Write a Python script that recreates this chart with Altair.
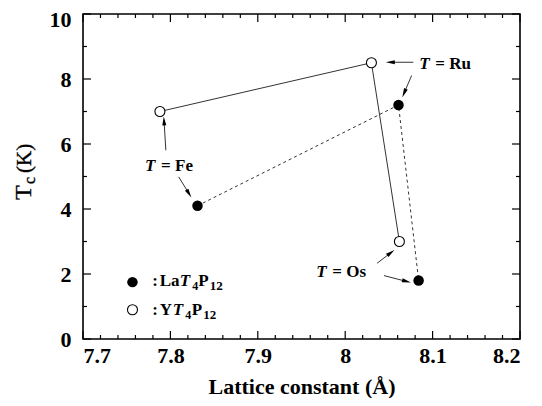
import math
import altair as alt
import pandas as pd

# ---------------- data ----------------
elements = ["Fe", "Ru", "Os"]
la_lattice = [7.831, 8.061, 8.084]
la_tc = [4.1, 7.2, 1.8]
y_lattice = [7.788, 8.030, 8.062]
y_tc = [7.0, 8.5, 3.0]

x_major = [7.7, 7.8, 7.9, 8.0, 8.1, 8.2]
x_minor = [7.72, 7.74, 7.76, 7.78, 7.82, 7.84, 7.86, 7.88, 7.92, 7.94, 7.96, 7.98,
           8.02, 8.04, 8.06, 8.08, 8.12, 8.14, 8.16, 8.18]
y_major = [0, 2, 4, 6, 8, 10]
y_minor = [1, 3, 5, 7, 9]

# annotation text "T = X" (left edge, baseline)
label_x = [7.771, 8.0848, 7.967]
label_y = [5.17, 8.31, 1.90]

# arrows (start -> tip)
arrow_from_x = [7.7948, 7.8095, 8.078, 8.076, 8.0365, 8.0444]
arrow_from_y = [5.807, 4.988, 8.515, 8.107, 2.331, 1.951]
arrow_to_x = [7.7924, 7.824, 8.0465, 8.0654, 8.0563, 8.0752]
arrow_to_y = [6.85, 4.356, 8.515, 7.442, 2.739, 1.736]

# legend
legend_marker_x = [7.7566, 7.7566]
legend_marker_y = [1.75, 0.90]
legend_text_x = 7.7791
legend_text_y = [1.62, 0.74]

# ---------------- layout ----------------
W, H = 437, 325
XD = [7.7, 8.2]
YD = [0, 10]
FONT = "Liberation Serif"

xs = alt.Scale(domain=XD, nice=False, zero=False)
ys = alt.Scale(domain=YD, nice=False, zero=False)


def to_px(x, y):
    return (x - XD[0]) / (XD[1] - XD[0]) * W, H - (y - YD[0]) / (YD[1] - YD[0]) * H


def to_data(px, py):
    return XD[0] + px / W * (XD[1] - XD[0]), YD[0] + (H - py) / H * (YD[1] - YD[0])


def X(field="x", **kw):
    return alt.X(field, type="quantitative", scale=xs, **kw)


def Y(field="y", **kw):
    return alt.Y(field, type="quantitative", scale=ys, **kw)


# ---- series ----
df_la = pd.DataFrame({"x": la_lattice, "y": la_tc, "el": elements, "o": [0, 1, 2]})
df_y = pd.DataFrame({"x": y_lattice, "y": y_tc, "el": elements, "o": [0, 1, 2]})

y_line = alt.Chart(df_y).mark_line(color="#333333", strokeWidth=1).encode(
    x=X("x", axis=alt.Axis(values=x_major, format="~g", title="Lattice constant (Å)",
                           titleY=54, titleBaseline="alphabetic")),
    y=Y("y", axis=alt.Axis(values=y_major, format="d", title=None,
                           labelOffset={"condition": {"test": "datum.value == 10", "value": 5},
                                        "value": 0})),
    order="o:Q",
)
la_line = alt.Chart(df_la).mark_line(color="#333333", strokeWidth=1, strokeDash=[3, 3]).encode(
    x=X(), y=Y(), order="o:Q"
)
la_pts = alt.Chart(df_la).mark_point(shape="circle", filled=True, color="black", size=110, opacity=1).encode(
    x=X(), y=Y()
)
y_pts = alt.Chart(df_y).mark_point(shape="circle", filled=True, fill="white", stroke="black",
                                     strokeWidth=1.1, size=100, opacity=1).encode(x=X(), y=Y())

# ---- arrows ----
HEAD = 81
half = math.sqrt(HEAD) / 2
rows = []
for fx, fy, tx, ty in zip(arrow_from_x, arrow_from_y, arrow_to_x, arrow_to_y):
    p0 = to_px(fx, fy)
    p1 = to_px(tx, ty)
    dx, dy = p1[0] - p0[0], p1[1] - p0[1]
    n = math.hypot(dx, dy)
    ux, uy = dx / n, dy / n
    hc = (p1[0] - ux * half, p1[1] - uy * half)
    hx, hy = to_data(*hc)
    ang = math.degrees(math.atan2(ux, -uy)) % 360
    rows.append({"x": fx, "y": fy, "x2": hx, "y2": hy, "hx": hx, "hy": hy, "angle": ang})
df_arr = pd.DataFrame(rows)

arr_lines = alt.Chart(df_arr).mark_rule(color="#333333", strokeWidth=1).encode(
    x=X("x"), y=Y("y"), x2="x2", y2="y2"
)
arr_heads = alt.Chart(df_arr).mark_point(
    shape="M0,-1L0.45,1L-0.45,1Z", filled=True, color="black", size=HEAD, opacity=1
).encode(x=X("hx"), y=Y("hy"), angle=alt.Angle("angle", type="quantitative", scale=None))

# ---- annotation labels ----
df_lab = pd.DataFrame({"x": label_x, "y": label_y,
                       "t": ["T"] * 3, "rest": ["= " + e for e in elements]})
lab_T = alt.Chart(df_lab).mark_text(font=FONT, fontWeight="bold", fontStyle="italic", fontSize=17,
                                    fill="black", align="left", baseline="alphabetic").encode(
    x=X(), y=Y(), text="t")
lab_rest = alt.Chart(df_lab).mark_text(font=FONT, fontWeight="bold", fontSize=17, dx=16, fill="black",
                                       align="left", baseline="alphabetic").encode(x=X(), y=Y(), text="rest")

# ---- legend ----
df_leg_m = pd.DataFrame({"x": legend_marker_x, "y": legend_marker_y})
leg_la = alt.Chart(df_leg_m.iloc[[0]]).mark_point(shape="circle", filled=True, color="black", size=110,
                                                   opacity=1).encode(x=X(), y=Y())
leg_y = alt.Chart(df_leg_m.iloc[[1]]).mark_point(shape="circle", filled=True, fill="white", stroke="black",
                                                  strokeWidth=1.1, size=100, opacity=1).encode(x=X(), y=Y())

pieces = [
    # (row, text, px offset, size, style, dy)
    (0, ":", 0, 17, "normal", 0), (0, "La", 7.5, 17, "normal", 0), (0, "T", 27.5, 17, "italic", 0),
    (0, "4", 40, 12, "normal", 4), (0, "P", 46, 17, "normal", 0), (0, "12", 57.5, 13, "normal", 4),
    (1, ":", 0, 17, "normal", 0), (1, "Y", 7.5, 17, "normal", 0), (1, "T", 20.5, 17, "italic", 0),
    (1, "4", 33, 12, "normal", 4), (1, "P", 39.5, 17, "normal", 0), (1, "12", 51, 13, "normal", 4),
]
leg_layers = []
for row, txt, off, fs, st, ddy in pieces:
    d = pd.DataFrame({"x": [legend_text_x], "y": [legend_text_y[row]], "t": [txt]})
    leg_layers.append(
        alt.Chart(d).mark_text(font=FONT, fontWeight="bold", fontStyle=st, fontSize=fs, dx=off, dy=ddy,
                               fill="black", align="left", baseline="alphabetic").encode(
            x=X(), y=Y(), text="t")
    )

# ---- ticks (inward, all four sides) ----
def xticks(vals, length):
    d = pd.DataFrame({"x": vals})
    b = alt.Chart(d).mark_rule(color="black", strokeWidth=1.2).encode(
        x=X(), y=alt.value(H), y2=alt.value(H - length))
    t = alt.Chart(d).mark_rule(color="black", strokeWidth=1.2).encode(
        x=X(), y=alt.value(0), y2=alt.value(length))
    return [b, t]


def yticks(vals, length):
    d = pd.DataFrame({"y": vals})
    l = alt.Chart(d).mark_rule(color="black", strokeWidth=1.2).encode(
        y=Y(), x=alt.value(0), x2=alt.value(length))
    r = alt.Chart(d).mark_rule(color="black", strokeWidth=1.2).encode(
        y=Y(), x=alt.value(W), x2=alt.value(W - length))
    return [l, r]


tick_layers = xticks(x_major, 8) + xticks(x_minor, 4) + yticks(y_major, 8) + yticks(y_minor, 4)

# ---- y title: T_c (K) ----
def ytxt(t, px, py, fs):
    d = pd.DataFrame({"t": [t]})
    return alt.Chart(d).mark_text(font=FONT, fontWeight="normal", fontSize=fs, angle=270, fill="#000000",
                                  stroke="#000000", strokeWidth=0.35,
                                  align="left", baseline="alphabetic").encode(
        x=alt.value(px), y=alt.value(py), text="t")


ytitle = [ytxt("T", -52, 186, 24), ytxt("c", -48, 170, 16), ytxt("(K)", -52, 159, 21)]

chart = alt.layer(
    y_line, la_line, *tick_layers, arr_lines, arr_heads, la_pts, y_pts, lab_T, lab_rest,
    leg_la, leg_y, *leg_layers, *ytitle
).properties(
    width=W, height=H,
    autosize=alt.AutoSizeParams(type="none"),
    padding={"left": 75, "top": 6, "right": 14, "bottom": 59},
).configure_view(
    stroke="black", strokeWidth=1.6
).configure_axis(
    domain=False, ticks=False, tickSize=0, grid=False,
    labelFont=FONT, labelFontWeight="bold", labelFontSize=22, labelColor="black",
    titleFont=FONT, titleFontWeight="bold", titleFontSize=22, titleColor="black",
).configure_axisX(labelPadding=6).configure_axisY(labelPadding=12)

chart.save("out.html", embed_options={"renderer": "svg", "actions": False})
